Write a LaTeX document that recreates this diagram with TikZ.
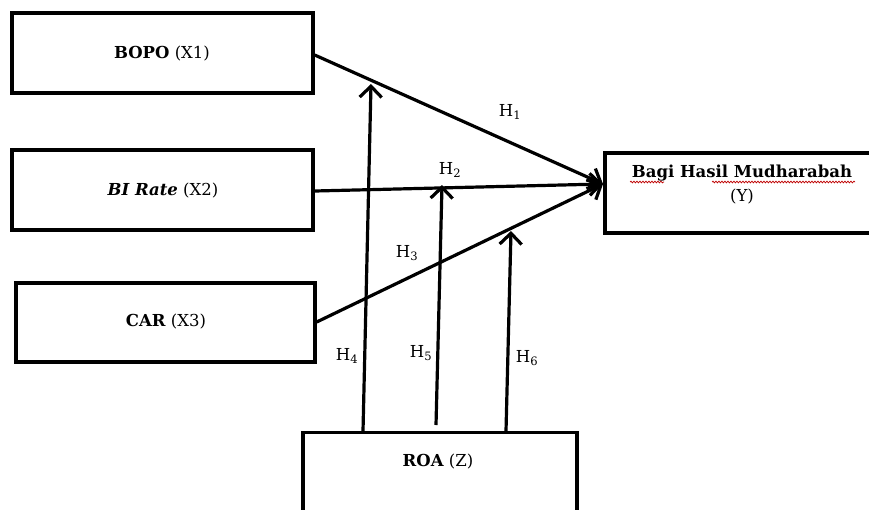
\documentclass[tikz,border=0pt]{standalone}
\usepackage{fontspec}
\setmainfont{DejaVu Serif}
\usetikzlibrary{arrows.meta,decorations.pathmorphing}
\begin{document}
\begin{tikzpicture}[x=1pt,y=-1pt,
  box/.style={draw=black,line width=3.4pt,fill=white,inner sep=0pt},
  lbl/.style={font=\fontsize{16.5}{24}\selectfont,inner sep=0pt},
  hlbl/.style={font=\fontsize{16.5}{20}\selectfont,inner sep=0pt},
  conn/.style={line width=3.2pt,-{Straight Barb[length=11pt,width=22pt,line width=3.2pt]}},
  squig/.style={draw=red!75!black,line width=0.7pt,decorate,decoration={snake,amplitude=0.9pt,segment length=3pt}}]
\useasboundingbox (0,0) rectangle (869,509);
\fill[white] (0,0) rectangle (869,509);
% boxes
\node[box,minimum width=301,minimum height=80] (x1) at (162.5,53) {};
\node[box,minimum width=301,minimum height=80] (x2) at (162.5,190) {};
\node[box,minimum width=299,minimum height=79] (x3) at (165.5,322.5) {};
\node[box,minimum width=276,minimum height=80] (y) at (743,193) {};
\node[box,minimum width=274,minimum height=130,anchor=north] (z) at (440,431) {};
% texts
\node[lbl] (tx1) at (162,54) {\textbf{BOPO} (X1)};
\node[lbl] (tx2) at (163,191) {\textbf{\textit{BI Rate}} (X2)};
\node[lbl] (tx3) at (166,322) {\textbf{CAR} (X3)};
\node[lbl,align=center] (ty) at (742,185) {\textbf{Bagi Hasil Mudharabah}\\(Y)};
\node[lbl] (tz) at (438,462) {\textbf{ROA} (Z)};
% spell-check squiggles
\draw[squig] (630,182) -- (664,182);
\draw[squig] (712,182) -- (855,182);
% convergence point and moderation targets
\coordinate (tip) at (603,184);
\coordinate (m4) at (371,84);
\coordinate (m5) at (442,185);
\coordinate (m6) at (511,231);
\coordinate (z4) at (363,431);
\coordinate (z5) at (436,425);
\coordinate (z6) at (506,431);
% connectors
\draw[conn] (x1.east |- 0,55) -- (tip);
\draw[conn] (x2.east |- 0,191) -- (tip);
\draw[conn] (x3.east |- 0,322) -- (tip);
\draw[conn] (z4) -- (m4);
\draw[conn] (z5) -- (m5);
\draw[conn] (z6) -- (m6);
% hypothesis labels
\node[hlbl] (h1) at (510,112) {H\textsubscript{1}};
\node[hlbl] (h2) at (450,170) {H\textsubscript{2}};
\node[hlbl] (h3) at (407,253) {H\textsubscript{3}};
\node[hlbl] (h4) at (347,356) {H\textsubscript{4}};
\node[hlbl] (h5) at (421,353) {H\textsubscript{5}};
\node[hlbl] (h6) at (527,358) {H\textsubscript{6}};
\end{tikzpicture}
\end{document}
